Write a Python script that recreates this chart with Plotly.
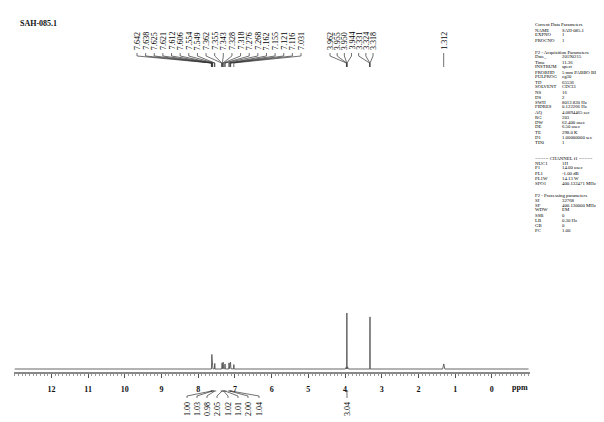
import plotly.graph_objects as go

# page is 604x422; the browser body adds an 8 px margin, so the figure is 596x414
OFF = 8
W, H = 604 - OFF, 422 - OFF

title_text = "SAH-085.1"
tick_vals = [12, 11, 10, 9, 8, 7, 6, 5, 4, 3, 2, 1, 0]
tick_text = [str(v) for v in tick_vals]

# 1H spectrum (ppm, relative intensity)
spec_ppm = [13.0, 7.70, 7.64, 7.63, 7.62, 7.61, 7.60, 7.56, 7.55, 7.54,
            7.36, 7.35, 7.34, 7.32, 7.31, 7.28, 7.27, 7.26, 7.17, 7.16, 7.15,
            7.12, 7.11, 7.04, 7.03, 7.02, 3.99, 3.97, 3.96, 3.955, 3.95, 3.945,
            3.93, 3.91, 3.325, 3.32, 3.315, 1.34, 1.31, 1.28, -1.0]
spec_int = [0, 0, 0, 26, 1, 20, 0.5, 0, 10, 0,
            0, 11, 0.5, 12, 0.5, 0.5, 9, 0, 0, 11, 0.5,
            12, 0.5, 0, 8, 0, 0, 3, 0.5, 0, 100, 0,
            4, 0, 0, 93, 0, 0, 9, 0, 0]

# peak labels
peaks_arom = [7.642, 7.638, 7.625, 7.621, 7.612, 7.606, 7.554, 7.549, 7.362, 7.355,
              7.343, 7.328, 7.318, 7.276, 7.268, 7.162, 7.155, 7.121, 7.116, 7.031]
peaks_aliph = [3.962, 3.955, 3.950, 3.944, 3.331, 3.324, 3.318]
peaks_single = [1.312]

# integrals
integral_ppm = [7.63, 7.61, 7.55, 7.35, 7.31, 7.27, 7.15, 7.11, 3.95]
integral_vals = ["1.00", "1.03", "0.98", "2.05", "1.02", "1.01", "2.00", "1.04", "3.04"]

# parameter block
params_1 = [("Current Data Parameters", ""), ("NAME", "SAH-085.1"), ("EXPNO", "1"), ("PROCNO", "1")]
params_2 = [("F2 - Acquisition Parameters", ""), ("Date_", "20190215"), ("Time", "11.36"),
            ("INSTRUM", "spect"), ("PROBHD", "5 mm PABBO BB-"), ("PULPROG", "zg30"),
            ("TD", "65536"), ("SOLVENT", "CDCl3"), ("NS", "16"), ("DS", "2"),
            ("SWH", "8012.820 Hz"), ("FIDRES", "0.122266 Hz"), ("AQ", "4.0894465 sec"),
            ("RG", "203"), ("DW", "62.400 usec"), ("DE", "6.50 usec"), ("TE", "298.0 K"),
            ("D1", "1.00000000 sec"), ("TD0", "1")]
params_3 = [("===== CHANNEL f1 =====", ""), ("NUC1", "1H"), ("P1", "14.00 usec"),
            ("PL1", "-1.00 dB"), ("PL1W", "14.13 W"), ("SFO1", "400.132471 MHz")]
params_4 = [("F2 - Processing parameters", ""), ("SI", "32768"), ("SF", "400.130000 MHz"),
            ("WDW", "EM"), ("SSB", "0"), ("LB", "0.30 Hz"), ("GB", "0"), ("PC", "1.00")]

# ---- geometry helpers (page pixels -> figure coordinates) ----
X_L, X_R = 14, 530
PPM_L, PPM_R = 13.02, -1.04


def px2ppm(px):
    return PPM_L + (px - X_L) * (PPM_R - PPM_L) / (X_R - X_L)


def ppm2px(p):
    return X_L + (p - PPM_L) * (X_R - X_L) / (PPM_R - PPM_L)


def xp(px):
    return (px - OFF) / W


def py(pix):
    return 1 - (pix - OFF) / H


FONT = "Liberation Serif, Times New Roman, serif"
INK = "#111"

fig = go.Figure()
fig.add_trace(go.Scatter(x=spec_ppm, y=spec_int, mode="lines",
                         line=dict(color="#555", width=0.9), hoverinfo="skip",
                         showlegend=False))

shapes = []
annotations = []

# title
annotations.append(dict(x=xp(18), y=py(23), xref="paper", yref="paper", text="<b>" + title_text + "</b>",
                        showarrow=False, xanchor="left", yanchor="middle",
                        font=dict(family=FONT, size=8, color=INK)))


def add_peak_group(values, px_start, px_end):
    n = len(values)
    for i, v in enumerate(values):
        lp = px_start + (px_end - px_start) * (i / (n - 1) if n > 1 else 0)
        lx = px2ppm(lp)
        annotations.append(dict(x=lx, y=py(41), xref="x", yref="paper", text="%.3f" % v,
                                textangle=-90, showarrow=False, xanchor="center", yanchor="middle",
                                font=dict(family=FONT, size=8, color="#000")))
        path = "M %f,%f L %f,%f L %f,%f L %f,%f" % (lx, py(53), lx, py(56), v, py(63), v, py(67))
        shapes.append(dict(type="path", path=path, xref="x", yref="paper",
                           line=dict(color="#333", width=0.7)))


add_peak_group(peaks_arom, 137, 301)
add_peak_group(peaks_aliph, 330, 373)
for v in peaks_single:
    px = ppm2px(v)
    add_peak_group([v], px, px)

# integrals
int_px = [187, 197, 207, 217, 228, 238, 248, 259, 347]
for lp, c, val in zip(int_px, integral_ppm, integral_vals):
    lx = px2ppm(lp)
    annotations.append(dict(x=lx, y=py(409), xref="x", yref="paper", text=val, textangle=-90,
                            showarrow=False, xanchor="center", yanchor="middle",
                            font=dict(family=FONT, size=8, color="#000")))
    path = "M %f,%f L %f,%f L %f,%f" % (lx, py(398), lx, py(396), c, py(391))
    shapes.append(dict(type="path", path=path, xref="x", yref="paper",
                       line=dict(color="#333", width=0.7)))
    shapes.append(dict(type="line", x0=c + 0.04, x1=c - 0.04, y0=py(391), y1=py(391),
                       xref="x", yref="paper", line=dict(color="#333", width=0.7)))

# ppm unit label
annotations.append(dict(x=xp(520), y=py(387), xref="paper", yref="paper", text="<b>ppm</b>",
                        showarrow=False, xanchor="center", yanchor="middle",
                        font=dict(family=FONT, size=8, color=INK)))


# parameters block
def add_block(rows, y0, step):
    for i, (k, v) in enumerate(rows):
        yy = py(y0 + i * step)
        annotations.append(dict(x=xp(533), y=yy, xref="paper", yref="paper", text=k,
                                showarrow=False, xanchor="left", yanchor="middle",
                                font=dict(family=FONT, size=4.8, color="#000")))
        if v:
            annotations.append(dict(x=xp(560), y=yy, xref="paper", yref="paper", text=v,
                                    showarrow=False, xanchor="left", yanchor="middle",
                                    font=dict(family=FONT, size=4.8, color="#000")))


add_block(params_1, 25, 5)
add_block(params_2, 52, 5)
add_block(params_3, 158, 5)
add_block(params_4, 195, 5)

# y axis: baseline at pixel 369, tallest peak (100) at pixel 313
units_per_px = 100 / 56
y_bottom_px, y_top_px = 372, 100
yr0 = -(y_bottom_px - 369) * units_per_px
yr1 = (369 - y_top_px) * units_per_px

fig.update_layout(
    width=W, height=H, autosize=False,
    margin=dict(l=0, r=0, t=0, b=0),
    paper_bgcolor="white", plot_bgcolor="white",
    showlegend=False,
    xaxis=dict(domain=[xp(X_L), xp(X_R)], range=[PPM_L, PPM_R],
               showgrid=False, zeroline=False, showline=True, linecolor="#888", linewidth=2,
               ticks="outside", ticklen=4, tickwidth=1, tickcolor="#555",
               tickvals=tick_vals, ticktext=["<b>%s</b>" % t for t in tick_text],
               tickfont=dict(family=FONT, size=8, color=INK), ticklabelstandoff=4,
               minor=dict(dtick=0.1, ticks="outside", ticklen=2, tickcolor="#999", showgrid=False),
               anchor="y"),
    yaxis=dict(domain=[py(y_bottom_px), py(y_top_px)], range=[yr0, yr1], visible=False,
               showgrid=False, zeroline=False),
    shapes=shapes,
    annotations=annotations,
)

fig.write_html("out.html")
